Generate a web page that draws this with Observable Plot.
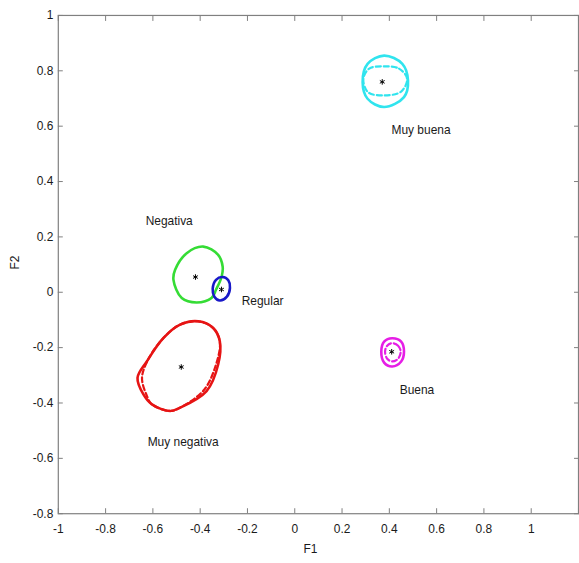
<!DOCTYPE html>
<html>
<head>
<meta charset="utf-8">
<script src="https://cdn.jsdelivr.net/npm/d3@7"></script>
<script src="https://cdn.jsdelivr.net/npm/@observablehq/plot@0.6"></script>
<style>
  html, body { margin: 0; padding: 0; overflow: hidden; background: #fff; }
</style>
</head>
<body>
<div id="chart"></div>
<script>
// Categories and their centroids in the F1–F2 plane
const groups = ["Muy buena", "Buena", "Regular", "Negativa", "Muy negativa"];
const centerF1 = [0.37, 0.41, -0.31, -0.42, -0.48];
const centerF2 = [0.76, -0.215, 0.01, 0.055, -0.27];

// Where each category name is written
const labelF1 = [0.534, 0.517, -0.136, -0.531, -0.472];
const labelF2 = [0.585, -0.355, -0.031, 0.257, -0.542];

// Confidence contours (solid) as [F1, F2] points
const muyBuenaSolid = [[0.378, 0.855], [0.455, 0.825], [0.479, 0.765], [0.462, 0.705], [0.378, 0.669], [0.308, 0.699], [0.287, 0.759], [0.308, 0.825]];
const buenaSolid = [[0.412, -0.166], [0.450, -0.178], [0.462, -0.214], [0.450, -0.250], [0.412, -0.268], [0.378, -0.254], [0.366, -0.214], [0.378, -0.178]];
const regularSolid = [[-0.305, 0.055], [-0.281, 0.043], [-0.274, 0.016], [-0.287, -0.016], [-0.317, -0.030], [-0.340, -0.016], [-0.347, 0.013], [-0.333, 0.045]];
const negativaSolid = [[-0.387, 0.165], [-0.324, 0.135], [-0.305, 0.093], [-0.309, 0.057], [-0.333, 0.009], [-0.352, -0.021], [-0.415, -0.037], [-0.478, -0.021], [-0.513, 0.045], [-0.506, 0.081], [-0.457, 0.141]];
const muyNegativaSolid = [[-0.408, -0.105], [-0.345, -0.129], [-0.317, -0.177], [-0.324, -0.261], [-0.373, -0.357], [-0.485, -0.417], [-0.527, -0.429], [-0.604, -0.405], [-0.640, -0.369], [-0.665, -0.309], [-0.625, -0.249], [-0.555, -0.165], [-0.485, -0.117]];

// Confidence contours (dashed)
const muyBuenaDashed = [[0.378, 0.816], [0.441, 0.808], [0.475, 0.771], [0.450, 0.725], [0.378, 0.711], [0.311, 0.722], [0.290, 0.769], [0.315, 0.808]];
const buenaDashed = [[0.412, -0.184], [0.437, -0.193], [0.448, -0.214], [0.437, -0.240], [0.412, -0.250], [0.391, -0.240], [0.382, -0.214], [0.391, -0.193]];
const muyNegativaDashed = [[-0.408, -0.105], [-0.345, -0.129], [-0.317, -0.177], [-0.333, -0.261], [-0.384, -0.353], [-0.485, -0.417], [-0.527, -0.429], [-0.604, -0.405], [-0.625, -0.375], [-0.646, -0.309], [-0.620, -0.243], [-0.555, -0.165], [-0.485, -0.117]];

// Axis ticks
const xTicks = [-1, -0.8, -0.6, -0.4, -0.2, 0, 0.2, 0.4, 0.6, 0.8, 1, 1.2];
const xTickLabels = ["-1", "-0.8", "-0.6", "-0.4", "-0.2", "0", "0.2", "0.4", "0.6", "0.8", "1", ""];
const yTicks = [-0.8, -0.6, -0.4, -0.2, 0, 0.2, 0.4, 0.6, 0.8, 1];
const yTickLabels = ["-0.8", "-0.6", "-0.4", "-0.2", "0", "0.2", "0.4", "0.6", "0.8", "1"];

const groupColor = {
  "Muy buena": "#30e4ee",
  "Buena": "#e61ee6",
  "Regular": "#1818c8",
  "Negativa": "#35dc35",
  "Muy negativa": "#e61414"
};

const toRows = (group, pts) => pts.map(([x, y]) => ({group, x, y}));
const solidRows = [
  ...toRows("Muy buena", muyBuenaSolid),
  ...toRows("Buena", buenaSolid),
  ...toRows("Negativa", negativaSolid),
  ...toRows("Regular", regularSolid),
  ...toRows("Muy negativa", muyNegativaSolid)
];
const dashedRows = [
  ...toRows("Muy buena", muyBuenaDashed),
  ...toRows("Buena", buenaDashed),
  ...toRows("Muy negativa", muyNegativaDashed)
];
const centers = groups.map((g, i) => ({group: g, x: centerF1[i], y: centerF2[i]}));
const labels = groups.map((g, i) => ({group: g, x: labelF1[i], y: labelF2[i]}));

const xFmt = d => xTickLabels[xTicks.findIndex(t => Math.abs(t - d) < 1e-9)] ?? "";
const yFmt = d => yTickLabels[yTicks.findIndex(t => Math.abs(t - d) < 1e-9)] ?? "";

const axisGray = "#808080";
const textColor = "#1a1a1a";

const chart = Plot.plot({
  width: 581,
  height: 563,
  marginLeft: 58,
  marginRight: 1,
  marginTop: 15,
  marginBottom: 48,
  style: {fontFamily: "'Liberation Sans', Arial, sans-serif", fontSize: "12px", background: "#fff"},
  x: {domain: [-1, 1.2], label: null},
  y: {domain: [-0.8, 1], label: null},
  marks: [
    Plot.frame({stroke: axisGray, strokeWidth: 1.2}),
    Plot.axisX({anchor: "bottom", ticks: xTicks, tickFormat: xFmt, tickSize: -5, tickPadding: 16, stroke: axisGray, fill: textColor, fontSize: 12}),
    Plot.axisX({anchor: "top", ticks: xTicks, tickFormat: () => "", tickSize: -5, stroke: axisGray}),
    Plot.axisY({anchor: "left", ticks: yTicks, tickFormat: yFmt, tickSize: -5, tickPadding: 10, stroke: axisGray, fill: textColor, fontSize: 12}),
    Plot.axisY({anchor: "right", ticks: yTicks, tickFormat: () => "", tickSize: -5, stroke: axisGray}),
    Plot.line(solidRows, {x: "x", y: "y", z: "group", stroke: d => groupColor[d.group], strokeWidth: 2.6, curve: "catmull-rom-closed"}),
    Plot.line(dashedRows, {x: "x", y: "y", z: "group", stroke: d => groupColor[d.group], strokeWidth: 2.2, strokeDasharray: "5,3", curve: "catmull-rom-closed"}),
    Plot.dot(centers, {x: "x", y: "y", symbol: "asterisk", r: 2.6, stroke: "#000", strokeWidth: 1}),
    Plot.text(labels, {x: "x", y: "y", text: "group", fill: textColor, fontSize: 12}),
    Plot.text(["F1"], {frameAnchor: "bottom", text: d => d, dx: -8, dy: 39, fill: textColor, fontSize: 12}),
    Plot.text(["F2"], {frameAnchor: "left", text: d => d, rotate: -90, dx: -43, dy: 5, fill: textColor, fontSize: 12})
  ]
});
document.getElementById("chart").appendChild(chart);
</script>
</body>
</html>
